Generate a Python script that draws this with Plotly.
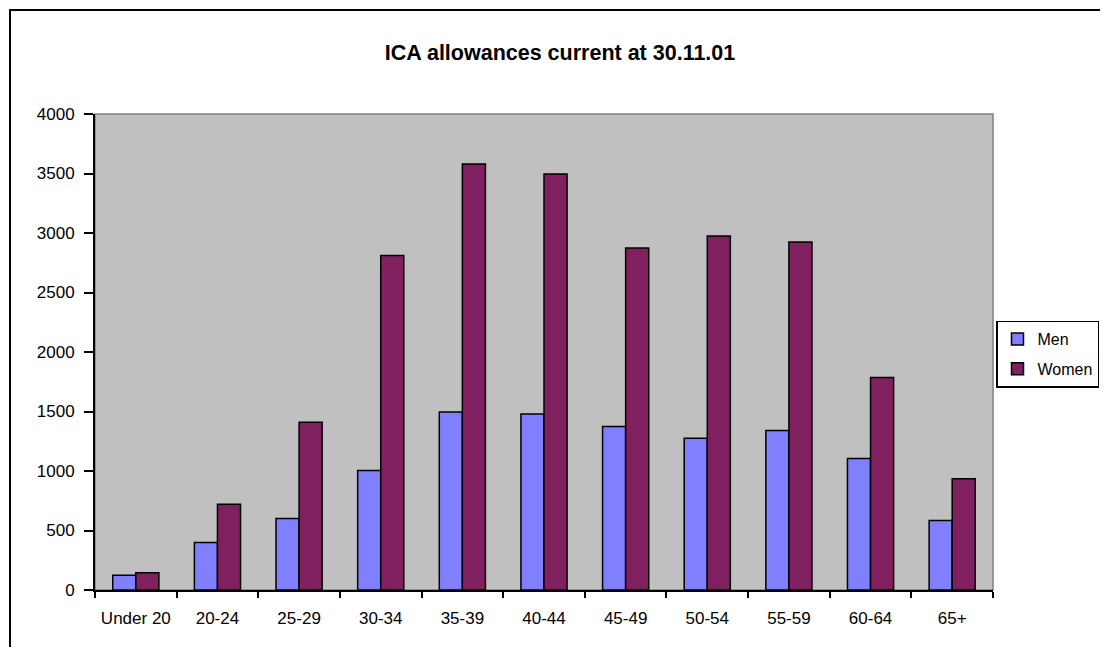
import plotly.graph_objects as go

categories = ["Under 20", "20-24", "25-29", "30-34", "35-39", "40-44",
              "45-49", "50-54", "55-59", "60-64", "65+"]
men = [125, 400, 600, 1005, 1495, 1480, 1375, 1275, 1340, 1105, 585]
women = [145, 720, 1410, 2810, 3580, 3495, 2875, 2975, 2925, 1785, 935]
y_ticks = [0, 500, 1000, 1500, 2000, 2500, 3000, 3500, 4000]

FONT = "Liberation Sans, Arial, sans-serif"

fig = go.Figure()
fig.add_trace(go.Bar(name="Men", x=categories, y=men, legendgroup="m",
                     marker=dict(color="#8080FF", line=dict(color="black", width=1.5))))
fig.add_trace(go.Bar(name="Women", x=categories, y=women, legendgroup="w",
                     marker=dict(color="#80205F", line=dict(color="black", width=1.5))))

# page offset of 8px (body margin) taken into account
OFF = 8
W, H = 1108 - 2 * OFF, 655 - 2 * OFF
L = 95 - OFF
T = 114 - OFF
R = W - (993 - OFF)
B = H - (590 - OFF)
pw, ph = W - L - R, H - T - B

def px_x(page_x):
    return (page_x - OFF - L) / pw

def px_y(page_y):
    return ((H - B) - (page_y - OFF)) / ph

fig.update_layout(
    width=W, height=H,
    autosize=False,
    margin=dict(l=L, r=R, t=T, b=B, pad=0, autoexpand=False),
    paper_bgcolor="white",
    plot_bgcolor="#C0C0C0",
    barmode="group",
    bargap=0.435,
    bargroupgap=0,
    font=dict(family=FONT, size=17, color="black"),
    title=dict(text="<b>ICA allowances current at 30.11.01</b>",
               x=(560 - OFF) / W, xref="container", xanchor="center",
               y=1 - (52 - OFF) / H, yref="container", yanchor="middle",
               font=dict(family=FONT, size=21.5, color="black")),
    xaxis=dict(type="category", tickson="boundaries", ticks="outside", ticklen=6,
               tickwidth=2, tickcolor="black", showline=True, linecolor="black",
               linewidth=2, showgrid=False, ticklabelstandoff=12, tickangle=0,
               automargin=False, tickfont=dict(size=17)),
    yaxis=dict(range=[0, 4000], tickvals=y_ticks, ticks="outside", ticklen=9,
               tickwidth=2, tickcolor="black", showline=True, linecolor="black",
               linewidth=2, showgrid=False, zeroline=False, ticklabelstandoff=6,
               automargin=False, tickfont=dict(size=17)),
    legend=dict(x=(996 - OFF) / W, xref="container", xanchor="left",
                y=1 - (354 - OFF) / H, yref="container", yanchor="middle",
                bgcolor="white", bordercolor="black", borderwidth=1.5,
                font=dict(size=16), traceorder="grouped", tracegroupgap=6,
                itemwidth=30),
    showlegend=True,
)

# plot-area border (top/right gray)
fig.add_shape(type="rect", xref="paper", yref="paper", x0=0, x1=1, y0=0, y1=1,
              line=dict(color="#808080", width=1.5), layer="below")
# outer chart border
fig.add_shape(type="rect", xref="paper", yref="paper",
              x0=px_x(10), x1=px_x(1140),
              y0=px_y(700), y1=px_y(10),
              line=dict(color="black", width=2), fillcolor="rgba(0,0,0,0)", layer="above")

fig.write_html("out.html")
